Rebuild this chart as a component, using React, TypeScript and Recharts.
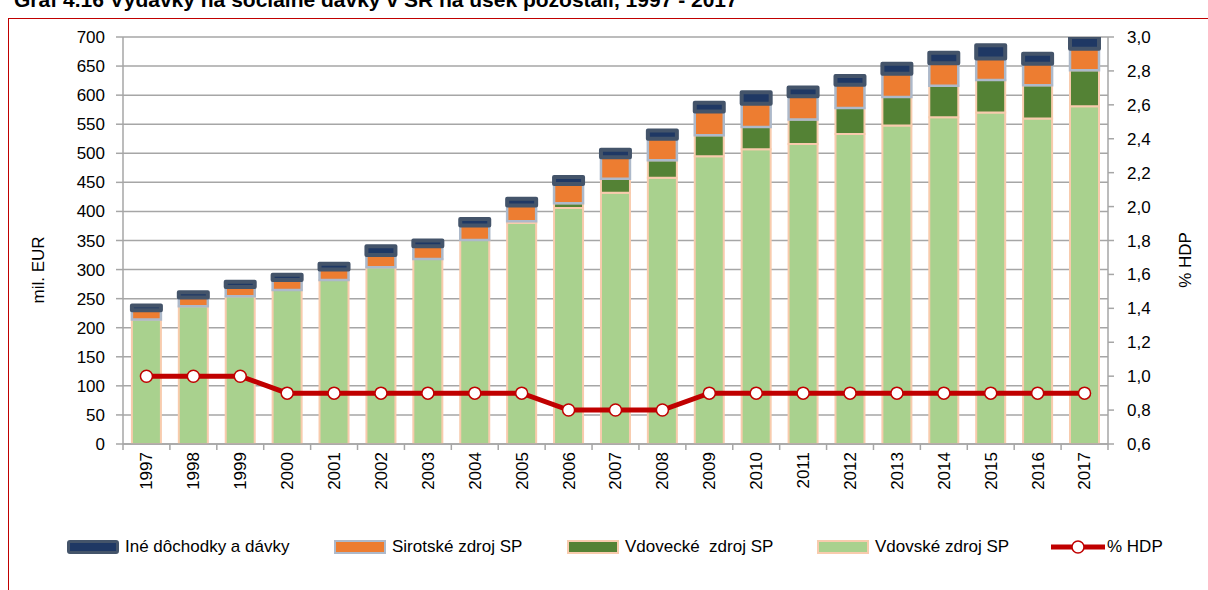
import React from "react"
import { Bar, CartesianGrid, ComposedChart, Line, XAxis, YAxis } from "recharts"

const YEARS = [
  "1997", "1998", "1999", "2000", "2001", "2002", "2003", "2004", "2005", "2006", "2007",
  "2008", "2009", "2010", "2011", "2012", "2013", "2014", "2015", "2016", "2017",
]
// mil. EUR
const VDOVSKE = [214, 237, 254, 265, 282, 304, 318, 351, 380, 406, 432, 458, 495, 507, 516, 533, 548, 562, 570, 560, 581]
const VDOVECKE = [0, 0, 0, 0, 0, 0, 0, 0, 3, 8, 24, 30, 36, 38, 42, 45, 49, 54, 56, 57, 62]
const SIROTSKE = [16, 15, 16, 17, 18, 21, 22, 25, 27, 33, 37, 37, 41, 40, 40, 40, 40, 39, 37, 37, 37]
const INE = [8, 9, 9, 9, 10, 15, 10, 11, 12, 12, 13, 14, 15, 20, 15, 15, 17, 18, 23, 17, 22]
// % HDP
const HDP = [1.0, 1.0, 1.0, 0.9, 0.9, 0.9, 0.9, 0.9, 0.9, 0.8, 0.8, 0.8, 0.9, 0.9, 0.9, 0.9, 0.9, 0.9, 0.9, 0.9, 0.9]

const LEFT_TICKS = [0, 50, 100, 150, 200, 250, 300, 350, 400, 450, 500, 550, 600, 650, 700]
const RIGHT_TICKS = [0.6, 0.8, 1.0, 1.2, 1.4, 1.6, 1.8, 2.0, 2.2, 2.4, 2.6, 2.8, 3.0]

const data = YEARS.map((year, i) => ({
  year,
  vdovske: VDOVSKE[i],
  vdovecke: VDOVECKE[i],
  sirotske: SIROTSKE[i],
  ine: INE[i],
  hdp: HDP[i],
}))

const FONT = "'Liberation Sans', Arial, sans-serif"
const AXIS = "#A6A6A6"
const PLOT_W = 985
const BAND = PLOT_W / YEARS.length

function YearTick(props: any) {
  const { x, y, payload } = props
  const last = payload.value === YEARS[YEARS.length - 1]
  return (
    <g>
      <line x1={x - BAND / 2} x2={x - BAND / 2} y1={y} y2={y + 6} stroke={AXIS} strokeWidth={1.5} />
      {last && <line x1={x + BAND / 2} x2={x + BAND / 2} y1={y} y2={y + 6} stroke={AXIS} strokeWidth={1.5} />}
      <text
        x={x}
        y={y + 8}
        dy="0.35em"
        transform={`rotate(-90, ${x}, ${y + 8})`}
        textAnchor="end"
        fontSize={17}
        fontFamily={FONT}
        fill="#000"
      >
        {payload.value}
      </text>
    </g>
  )
}

const legendItems = [
  { label: "Iné dôchodky a dávky", left: 67, fill: "#1F3864", border: "3px solid #44546A", radius: 3 },
  { label: "Sirotské zdroj SP", left: 334, fill: "#ED7D31", border: "2px solid #ADB9CA", radius: 0 },
  { label: "Vdovecké  zdroj SP", left: 567, fill: "#548235", border: "2px solid #F8CBAD", radius: 0 },
  { label: "Vdovské zdroj SP", left: 817, fill: "#A9D18E", border: "2px solid #F8CBAD", radius: 0 },
]

export default function App() {
  return (
    <div style={{ position: "absolute", left: 0, top: 0, width: 1208, height: 590, overflow: "hidden", fontFamily: FONT }}>
      <div
        style={{
          position: "absolute",
          left: 14,
          top: -12,
          fontSize: 21,
          fontWeight: "bold",
          whiteSpace: "nowrap",
          color: "#000",
        }}
      >
        Graf 4.16 Výdavky na sociálne dávky v SR na úsek pozostalí, 1997 - 2017
      </div>
      <div
        style={{
          position: "absolute",
          left: 8,
          top: 18,
          width: 1220,
          height: 620,
          border: "1px solid #C00000",
          boxSizing: "border-box",
        }}
      />
      <div style={{ position: "absolute", left: 0, top: 0 }}>
        <ComposedChart
          width={1208}
          height={590}
          data={data}
          margin={{ top: 37, right: 40, left: 63, bottom: 96 }}
          barCategoryGap="19%"
        >
          <CartesianGrid yAxisId="left" vertical={false} stroke={AXIS} strokeWidth={1.5} />
          <XAxis
            dataKey="year"
            height={50}
            interval={0}
            tickSize={0}
            tickMargin={0}
            tickLine={false}
            axisLine={{ stroke: AXIS, strokeWidth: 1.5 }}
            tick={<YearTick />}
          />
          <YAxis
            yAxisId="left"
            width={60}
            domain={[0, 700]}
            ticks={LEFT_TICKS}
            allowDataOverflow
            interval={0}
            tickSize={7}
            tickMargin={11}
            axisLine={{ stroke: AXIS, strokeWidth: 1.5 }}
            tickLine={{ stroke: AXIS, strokeWidth: 1.5 }}
            tick={{ fontSize: 17, fill: "#000", fontFamily: FONT }}
          />
          <YAxis
            yAxisId="right"
            orientation="right"
            width={60}
            domain={[0.6, 3.0]}
            ticks={RIGHT_TICKS}
            interval={0}
            tickSize={6}
            tickMargin={13}
            axisLine={{ stroke: AXIS, strokeWidth: 1.5 }}
            tickLine={{ stroke: AXIS, strokeWidth: 1.5 }}
            tick={{ fontSize: 17, fill: "#000", fontFamily: FONT, textAnchor: "start" }}
            tickFormatter={(v: number) => v.toFixed(1).replace(".", ",")}
          />
          <Bar yAxisId="left" dataKey="vdovske" stackId="a" fill="#A9D18E" stroke="#F8CBAD" strokeWidth={2} isAnimationActive={false} />
          <Bar yAxisId="left" dataKey="vdovecke" stackId="a" fill="#548235" stroke="#F8CBAD" strokeWidth={2} isAnimationActive={false} />
          <Bar yAxisId="left" dataKey="sirotske" stackId="a" fill="#ED7D31" stroke="#ADB9CA" strokeWidth={2.5} isAnimationActive={false} />
          <Bar
            yAxisId="left"
            dataKey="ine"
            stackId="a"
            fill="#1F3864"
            stroke="#44546A"
            strokeWidth={4}
            strokeLinejoin="round"
            isAnimationActive={false}
          />
          <Line
            yAxisId="right"
            type="linear"
            dataKey="hdp"
            stroke="#C00000"
            strokeWidth={5}
            dot={{ r: 6, fill: "#fff", stroke: "#C00000", strokeWidth: 1.5 }}
            isAnimationActive={false}
          />
        </ComposedChart>
      </div>
      <div
        style={{
          position: "absolute",
          left: 39,
          top: 270,
          transform: "translate(-50%, -50%) rotate(-90deg)",
          fontSize: 17,
          whiteSpace: "nowrap",
          color: "#000",
        }}
      >
        mil. EUR
      </div>
      <div
        style={{
          position: "absolute",
          left: 1186,
          top: 260,
          transform: "translate(-50%, -50%) rotate(-90deg)",
          fontSize: 17,
          whiteSpace: "nowrap",
          color: "#000",
        }}
      >
        % HDP
      </div>
      {legendItems.map((item) => (
        <div key={item.label} style={{ position: "absolute", left: item.left, top: 537, display: "flex", alignItems: "center", height: 20 }}>
          <div
            style={{
              width: 52,
              height: 14,
              background: item.fill,
              border: item.border,
              borderRadius: item.radius,
              boxSizing: "border-box",
            }}
          />
          <span style={{ marginLeft: 6, fontSize: 17, color: "#000", whiteSpace: "pre" }}>{item.label}</span>
        </div>
      ))}
      <div style={{ position: "absolute", left: 1051, top: 537, display: "flex", alignItems: "center", height: 20 }}>
        <svg width={54} height={20}>
          <line x1={0} x2={54} y1={10} y2={10} stroke="#C00000" strokeWidth={5} />
          <circle cx={27} cy={10} r={6} fill="#fff" stroke="#C00000" strokeWidth={1.5} />
        </svg>
        <span style={{ marginLeft: 2, fontSize: 17, color: "#000" }}>% HDP</span>
      </div>
    </div>
  )
}
